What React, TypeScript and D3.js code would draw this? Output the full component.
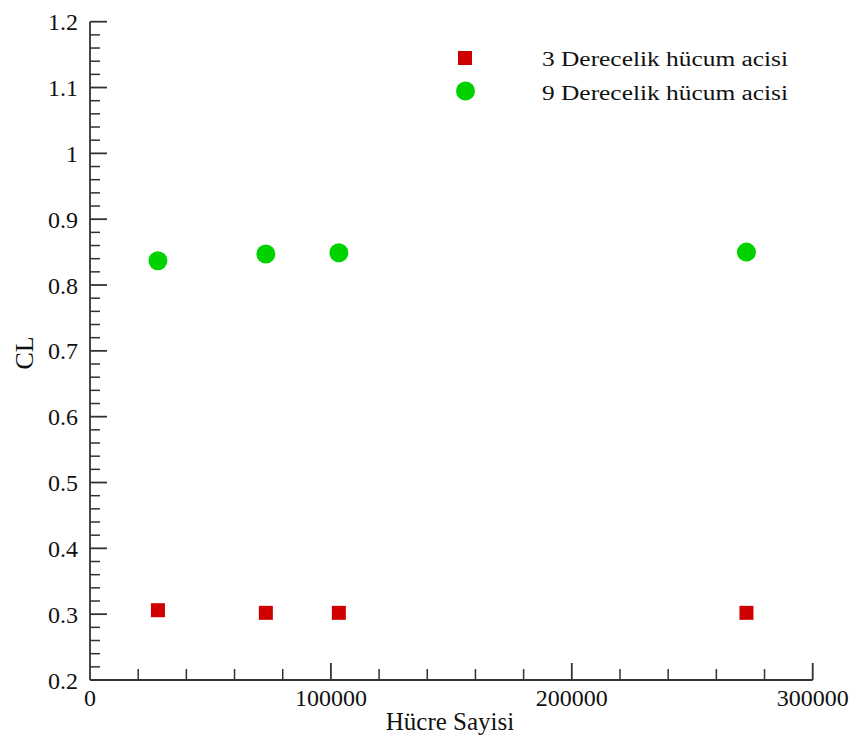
import React from "react";
import * as d3 from "d3";

// Cell counts of the meshes and the lift coefficients found on each
const cellCounts = [28200, 73000, 103300, 272500];
const clAlpha3 = [0.306, 0.302, 0.302, 0.302];
const clAlpha9 = [0.837, 0.847, 0.849, 0.85];

const seriesNames = ["3 Derecelik hücum acisi", "9 Derecelik hücum acisi"];
const xMajorTicks = [0, 100000, 200000, 300000];
const yMajorTicks = [0.2, 0.3, 0.4, 0.5, 0.6, 0.7, 0.8, 0.9, 1, 1.1, 1.2];

const W = 856;
const H = 738;
const margin = { left: 90, top: 21.7, right: 43.3, bottom: 58 };

const axisColor = "#333";
const red = "#d00000";
const green = "#00d200";
const serif = '"Liberation Serif", "Times New Roman", Times, serif';

export default function App() {
  const x = d3.scaleLinear().domain([0, 300000]).range([margin.left, W - margin.right]);
  const y = d3.scaleLinear().domain([0.2, 1.2]).range([H - margin.bottom, margin.top]);

  const xMinor = d3.range(0, 300001, 20000).filter((v) => v % 100000 !== 0);
  const yMinor = d3
    .range(0, 51)
    .map((i) => 0.2 + i * 0.02)
    .filter((_, i) => i % 5 !== 0);

  const x0 = x(0);
  const y0 = y(0.2);
  const sq = 14;
  const r = 9.5;
  const txt = { fontFamily: serif, fill: "#111" };

  return (
    <svg
      width={W}
      height={H}
      style={{ position: "absolute", left: 0, top: 0, background: "#fff", fontFamily: serif }}
    >
      {/* axes */}
      <line x1={x0} x2={x0} y1={y(1.2)} y2={y0} stroke={axisColor} strokeWidth={1.8} />
      <line x1={x0} x2={x(300000)} y1={y0} y2={y0} stroke={axisColor} strokeWidth={1.8} />

      {/* x ticks */}
      {xMajorTicks.map((v) => (
        <g key={"xm" + v}>
          {v !== 0 && (
            <line x1={x(v)} x2={x(v)} y1={y0} y2={y0 - 17} stroke={axisColor} strokeWidth={1.8} />
          )}
          <text x={x(v)} y={706} fontSize={24} textAnchor="middle" style={txt}>
            {String(v)}
          </text>
        </g>
      ))}
      {xMinor.map((v) => (
        <line key={"xn" + v} x1={x(v)} x2={x(v)} y1={y0} y2={y0 - 11} stroke={axisColor} strokeWidth={1.5} />
      ))}

      {/* y ticks */}
      {yMajorTicks.map((v) => (
        <g key={"ym" + v}>
          {v !== 0.2 && (
            <line x1={x0} x2={x0 + 17} y1={y(v)} y2={y(v)} stroke={axisColor} strokeWidth={1.8} />
          )}
          <text x={78} y={y(v) + 8.5} fontSize={24} textAnchor="end" style={txt}>
            {d3.format("~g")(v)}
          </text>
        </g>
      ))}
      {yMinor.map((v, i) => (
        <line key={"yn" + i} x1={x0} x2={x0 + 10} y1={y(v)} y2={y(v)} stroke={axisColor} strokeWidth={1.5} />
      ))}

      {/* axis titles */}
      <text x={450} y={730} fontSize={25} textAnchor="middle" style={txt}>
        Hücre Sayisi
      </text>
      <text
        transform={`translate(33, 353) rotate(-90)`}
        fontSize={26}
        textAnchor="middle"
        style={txt}
      >
        CL
      </text>

      {/* 3 degree series */}
      {cellCounts.map((c, i) => (
        <rect
          key={"s3" + i}
          x={x(c) - sq / 2}
          y={y(clAlpha3[i]) - sq / 2}
          width={sq}
          height={sq}
          fill={red}
        />
      ))}
      {/* 9 degree series */}
      {cellCounts.map((c, i) => (
        <circle key={"s9" + i} cx={x(c)} cy={y(clAlpha9[i])} r={r} fill={green} />
      ))}

      {/* legend */}
      <rect x={465 - sq / 2} y={58 - sq / 2} width={sq} height={sq} fill={red} />
      <circle cx={465.5} cy={91} r={r} fill={green} />
      <text x={542} y={66} fontSize={20} textLength={246} lengthAdjust="spacingAndGlyphs" style={txt}>
        {seriesNames[0]}
      </text>
      <text x={542} y={100} fontSize={20} textLength={246} lengthAdjust="spacingAndGlyphs" style={txt}>
        {seriesNames[1]}
      </text>
    </svg>
  );
}
